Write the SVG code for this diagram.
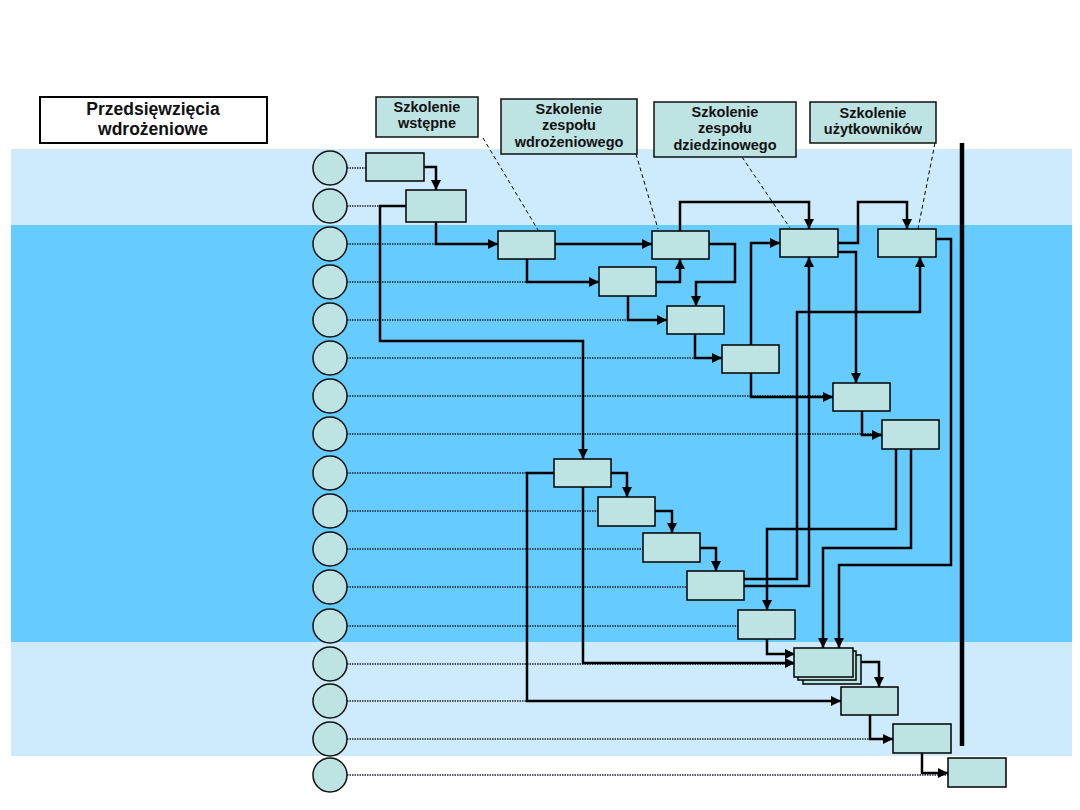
<svg xmlns="http://www.w3.org/2000/svg" width="1080" height="810" viewBox="0 0 1080 810">
<style>
.t{font-family:"Liberation Sans",Arial,sans-serif;font-weight:bold;fill:#111;text-anchor:middle}
.lbl{fill:#bde3e3;stroke:#111;stroke-width:1.5}
.box{fill:#bde3e3;stroke:#000;stroke-width:1.5}
.circ{fill:#bde3e3;stroke:#111;stroke-width:1.5}
.dot{stroke:#223;stroke-width:1.5;stroke-dasharray:1.5 1;fill:none}
.lead{stroke:#000;stroke-width:1;stroke-dasharray:4 3;fill:none}
.ca{stroke:#000;stroke-width:2.5;fill:none;marker-end:url(#arr)}
</style>
<defs>
<marker id="arr" viewBox="0 0 10 10" refX="10" refY="5" markerWidth="10" markerHeight="10" markerUnits="userSpaceOnUse" orient="auto">
<path d="M0,0 L10,5 L0,10 z" fill="#000"/>
</marker>
</defs>
<rect width="1080" height="810" fill="#fff"/>
<g id="bands">
<rect x="11" y="149" width="1061" height="76" fill="#cdebfd"/>
<rect x="11" y="225" width="1061" height="417" fill="#66ccff"/>
<rect x="11" y="642" width="1061" height="114" fill="#cdebfd"/>
</g>
<g id="title">
<rect x="40" y="97" width="227" height="46" fill="#fff" stroke="#000" stroke-width="2"/>
<text class="t" font-size="17.5"><tspan x="153" y="115">Przedsięwzięcia</tspan><tspan x="153" y="134.6">wdrożeniowe</tspan></text>
</g>
<g id="leaders">
<line class="lead" x1="483" y1="138" x2="538" y2="230"/>
<line class="lead" x1="636" y1="154" x2="658" y2="229"/>
<line class="lead" x1="742" y1="157" x2="790" y2="228"/>
<line class="lead" x1="935" y1="143" x2="918" y2="229"/>
</g>
<g id="label-wstepne">
<rect class="lbl" x="376" y="97" width="102" height="40"/>
<text class="t" font-size="14.5"><tspan x="427" y="112">Szkolenie</tspan><tspan x="427" y="128.3">wstępne</tspan></text>
</g>
<g id="label-wdrozeniowe">
<rect class="lbl" x="501" y="99" width="136" height="55"/>
<text class="t" font-size="14.5"><tspan x="569" y="114">Szkolenie</tspan><tspan x="569" y="130.3">zespołu</tspan><tspan x="569" y="146.6">wdrożeniowego</tspan></text>
</g>
<g id="label-dziedzinowe">
<rect class="lbl" x="654" y="102" width="142" height="55" stroke-width="2.5"/>
<text class="t" font-size="14.5"><tspan x="725" y="117">Szkolenie</tspan><tspan x="725" y="133.3">zespołu</tspan><tspan x="725" y="149.6">dziedzinowego</tspan></text>
</g>
<g id="label-uzytkownikow">
<rect class="lbl" x="810" y="102" width="126" height="41"/>
<text class="t" font-size="14.5"><tspan x="873" y="118">Szkolenie</tspan><tspan x="873" y="134.3">użytkowników</tspan></text>
</g>
<g id="rows">
<line class="dot" x1="347" y1="168" x2="366" y2="168"/>
<line class="dot" x1="347" y1="206" x2="406" y2="206"/>
<line class="dot" x1="347" y1="244" x2="498" y2="244"/>
<line class="dot" x1="347" y1="282" x2="599" y2="282"/>
<line class="dot" x1="347" y1="320" x2="667" y2="320"/>
<line class="dot" x1="347" y1="358" x2="722" y2="358"/>
<line class="dot" x1="347" y1="396" x2="833" y2="396"/>
<line class="dot" x1="347" y1="434" x2="882" y2="434"/>
<line class="dot" x1="347" y1="473" x2="554" y2="473"/>
<line class="dot" x1="347" y1="511" x2="598" y2="511"/>
<line class="dot" x1="347" y1="549" x2="643" y2="549"/>
<line class="dot" x1="347" y1="587" x2="687" y2="587"/>
<line class="dot" x1="347" y1="626" x2="738" y2="626"/>
<line class="dot" x1="347" y1="664" x2="795" y2="664"/>
<line class="dot" x1="347" y1="701" x2="841" y2="701"/>
<line class="dot" x1="347" y1="739" x2="893" y2="739"/>
<line class="dot" x1="347" y1="775" x2="948" y2="775"/>
</g>
<g id="circles">
<circle class="circ" cx="330" cy="168" r="17"/>
<circle class="circ" cx="330" cy="206" r="17"/>
<circle class="circ" cx="330" cy="244" r="17"/>
<circle class="circ" cx="330" cy="282" r="17"/>
<circle class="circ" cx="330" cy="320" r="17"/>
<circle class="circ" cx="330" cy="358" r="17"/>
<circle class="circ" cx="330" cy="396" r="17"/>
<circle class="circ" cx="330" cy="434" r="17"/>
<circle class="circ" cx="330" cy="473" r="17"/>
<circle class="circ" cx="330" cy="511" r="17"/>
<circle class="circ" cx="330" cy="549" r="17"/>
<circle class="circ" cx="330" cy="587" r="17"/>
<circle class="circ" cx="330" cy="626" r="17"/>
<circle class="circ" cx="330" cy="664" r="17"/>
<circle class="circ" cx="330" cy="701" r="17"/>
<circle class="circ" cx="330" cy="739" r="17"/>
<circle class="circ" cx="330" cy="775" r="17"/>
</g>
<line id="milestone" x1="962" y1="143" x2="962" y2="746" stroke="#000" stroke-width="4.5"/>
<g id="connectors">
<polyline class="ca" points="424,167 436,167 436,190"/>
<polyline class="ca" points="436,222 436,244 498,244"/>
<polyline class="ca" points="406,206 380,206 380,341 583,341 583,459"/>
<polyline class="ca" points="555,244 652,244"/>
<polyline class="ca" points="527,259 527,282 599,282"/>
<polyline class="ca" points="656,282 680,282 680,259"/>
<polyline class="ca" points="709,244 735,244 735,282 696,282 696,306"/>
<polyline class="ca" points="628,296 628,320 667,320"/>
<polyline class="ca" points="695,334 695,358 722,358"/>
<polyline class="ca" points="680,231 680,202 809,202 809,229"/>
<polyline class="ca" points="751,345 751,243 780,243"/>
<polyline class="ca" points="838,243 858,243 858,202 907,202 907,229"/>
<polyline class="ca" points="838,252 856,252 856,383"/>
<polyline class="ca" points="751,373 751,397 833,397"/>
<polyline class="ca" points="862,411 862,435 882,435"/>
<polyline class="ca" points="744,579 797,579 797,312 920,312 920,257"/>
<polyline class="ca" points="744,586 809,586 809,257"/>
<polyline class="ca" points="896,449 896,529 767,529 767,610"/>
<polyline class="ca" points="911,449 911,548 823,548 823,648"/>
<polyline class="ca" points="936,239 951,239 951,565 839,565 839,648"/>
<polyline class="ca" points="767,639 767,654 795,654"/>
<polyline class="ca" points="583,487 583,663 795,663"/>
<polyline class="ca" points="554,473 527,473 527,701 841,701"/>
<polyline class="ca" points="860,662 879,662 879,687"/>
<polyline class="ca" points="870,715 870,739 893,739"/>
<polyline class="ca" points="922,753 922,773 948,773"/>
<polyline class="ca" points="611,473 627,473 627,497"/>
<polyline class="ca" points="655,511 672,511 672,533"/>
<polyline class="ca" points="700,548 716,548 716,571"/>
</g>
<g id="task-A"><rect class="box" x="366" y="153" width="58" height="28"/></g>
<g id="task-B"><rect class="box" x="406" y="190" width="60" height="32"/></g>
<g id="task-C"><rect class="box" x="498" y="231" width="57" height="28"/></g>
<g id="task-D"><rect class="box" x="652" y="231" width="57" height="28"/></g>
<g id="task-E"><rect class="box" x="780" y="229" width="58" height="28"/></g>
<g id="task-F"><rect class="box" x="878" y="229" width="58" height="28"/></g>
<g id="task-G"><rect class="box" x="599" y="267" width="57" height="29"/></g>
<g id="task-H"><rect class="box" x="667" y="306" width="57" height="28"/></g>
<g id="task-I"><rect class="box" x="722" y="345" width="57" height="28"/></g>
<g id="task-J"><rect class="box" x="833" y="383" width="57" height="28"/></g>
<g id="task-K"><rect class="box" x="882" y="420" width="57" height="29"/></g>
<g id="task-L"><rect class="box" x="554" y="459" width="57" height="28"/></g>
<g id="task-M"><rect class="box" x="598" y="497" width="57" height="29"/></g>
<g id="task-N"><rect class="box" x="643" y="533" width="57" height="29"/></g>
<g id="task-O"><rect class="box" x="687" y="571" width="57" height="29"/></g>
<g id="task-P"><rect class="box" x="738" y="610" width="57" height="29"/></g>
<g id="task-Q">
<rect class="box" x="803" y="655" width="58" height="29"/>
<rect class="box" x="798" y="651" width="58" height="29"/>
<rect class="box" x="794" y="648" width="59" height="29"/>
</g>
<g id="task-R"><rect class="box" x="841" y="687" width="57" height="28"/></g>
<g id="task-S"><rect class="box" x="893" y="724" width="58" height="29"/></g>
<g id="task-T"><rect class="box" x="948" y="758" width="58" height="29"/></g>
</svg>
